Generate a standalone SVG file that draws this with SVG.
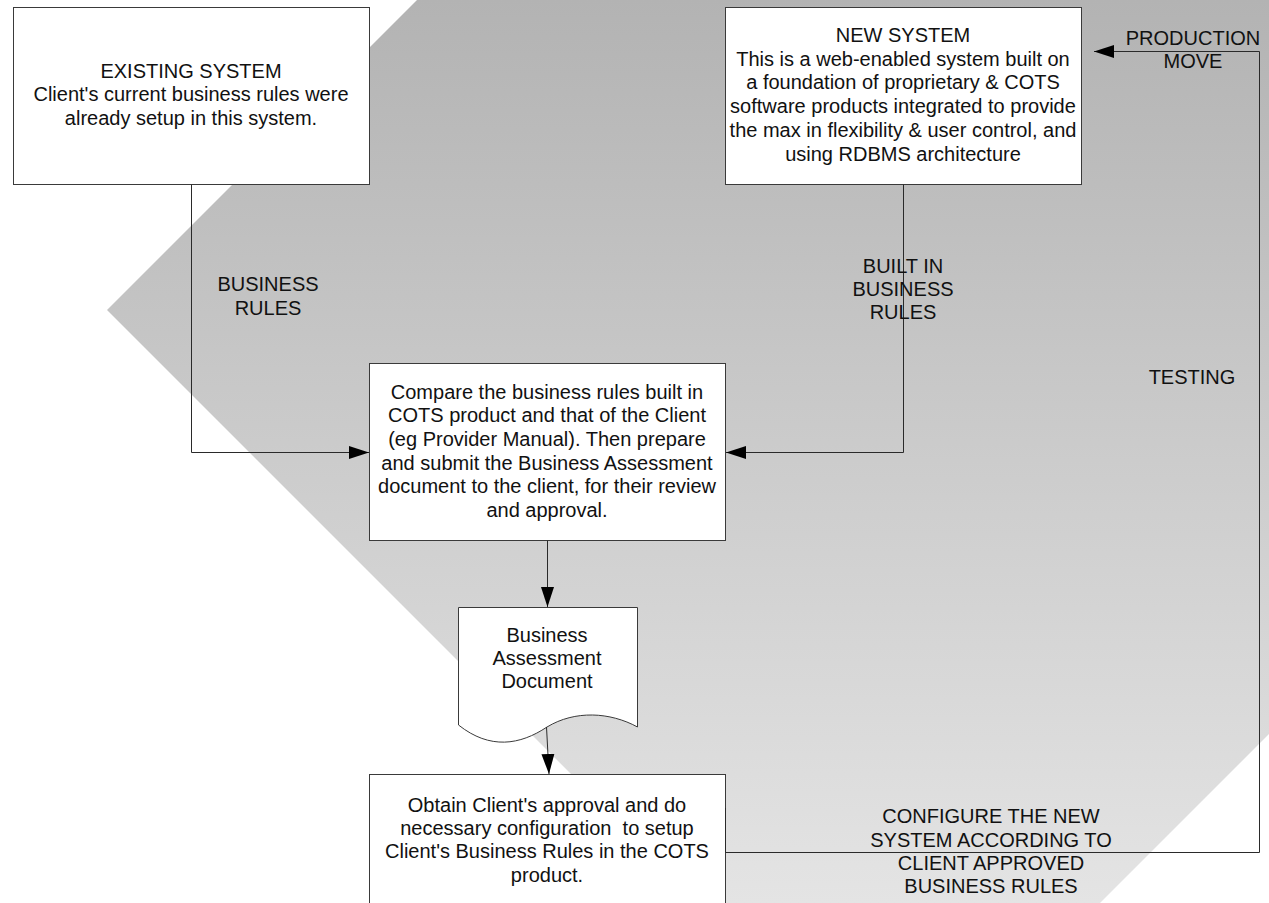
<svg xmlns="http://www.w3.org/2000/svg" width="1269" height="903" viewBox="0 0 1269 903">
<defs>
<linearGradient id="bg" x1="0" y1="0" x2="0" y2="903" gradientUnits="userSpaceOnUse">
<stop offset="0" stop-color="#b3b3b3"/>
<stop offset="1" stop-color="#e4e4e4"/>
</linearGradient>
<marker id="arr" markerUnits="userSpaceOnUse" markerWidth="20" markerHeight="14" refX="20" refY="7" orient="auto">
<path d="M0,0.5 L20,7 L0,13.5 Z" fill="#000"/>
</marker>
</defs>
<style>
.box{fill:#fff;stroke:#3a3a3a;stroke-width:1}
.t{font-family:"Liberation Sans",Arial,sans-serif;font-size:20px;fill:#111;text-anchor:middle}
.c{fill:none;stroke:#2a2a2a;stroke-width:1}
</style>
<rect width="1269" height="903" fill="#fff"/>
<polygon id="backdrop" points="417,0 1269,0 1269,734 1100,903 700,903 107,310" fill="url(#bg)"/>

<g id="existing">
<rect class="box" x="13.5" y="7.5" width="356" height="177"/>
<text class="t" x="191" y="77.5">EXISTING SYSTEM</text>
<text class="t" x="191" y="101">Client's current business rules were</text>
<text class="t" x="191" y="124.5">already setup in this system.</text>
</g>

<g id="newsystem">
<rect class="box" x="725.5" y="7.5" width="356" height="177"/>
<text class="t" x="903" y="42">NEW SYSTEM</text>
<text class="t" x="903" y="65.7">This is a web-enabled system built on</text>
<text class="t" x="903" y="89.4">a foundation of proprietary &amp; COTS</text>
<text class="t" x="903" y="113.1">software products integrated to provide</text>
<text class="t" x="903" y="136.8">the max in flexibility &amp; user control, and</text>
<text class="t" x="903" y="160.5">using RDBMS architecture</text>
</g>

<g id="compare">
<rect class="box" x="369.5" y="363.5" width="356" height="177"/>
<text class="t" x="547" y="398.5">Compare the business rules built in</text>
<text class="t" x="547" y="422.2">COTS product and that of the Client</text>
<text class="t" x="547" y="445.9">(eg Provider Manual). Then prepare</text>
<text class="t" x="547" y="469.6">and submit the Business Assessment</text>
<text class="t" x="547" y="493.3">document to the client, for their review</text>
<text class="t" x="547" y="517">and approval.</text>
</g>

<g id="document">
<path class="box" d="M458.5,607.5 H637.5 V727 C610,712 575,710 547,727 C520,745 490,750 458.5,725 Z"/>
<text class="t" x="547" y="642">Business</text>
<text class="t" x="547" y="665">Assessment</text>
<text class="t" x="547" y="688">Document</text>
</g>

<g id="configure">
<rect class="box" x="369.5" y="774.5" width="356" height="140"/>
<text class="t" x="547" y="811.7">Obtain Client's approval and do</text>
<text class="t" x="547" y="835" xml:space="preserve">necessary configuration  to setup</text>
<text class="t" x="547" y="858.3">Client's Business Rules in the COTS</text>
<text class="t" x="547" y="881.7">product.</text>
</g>

<g id="connectors">
<path class="c" d="M191.5,184.5 V452.5 H369" marker-end="url(#arr)"/>
<path class="c" d="M903.5,184.5 V452.5 H726" marker-end="url(#arr)"/>
<path class="c" d="M547.5,540.5 V607" marker-end="url(#arr)"/>
<path class="c" d="M546.5,727 L549,774" marker-end="url(#arr)"/>
<path class="c" d="M725.5,808 V852.5 H1259.5 V51.5 H1094" marker-end="url(#arr)"/>
<text class="t" x="268" y="291">BUSINESS</text>
<text class="t" x="268" y="315">RULES</text>
<text class="t" x="903" y="273">BUILT IN</text>
<text class="t" x="903" y="296">BUSINESS</text>
<text class="t" x="903" y="319">RULES</text>
<text class="t" x="1192" y="384">TESTING</text>
<text class="t" x="1193" y="45">PRODUCTION</text>
<text class="t" x="1193" y="68">MOVE</text>
<text class="t" x="991" y="823.3">CONFIGURE THE NEW</text>
<text class="t" x="991" y="846.7">SYSTEM ACCORDING TO</text>
<text class="t" x="991" y="870">CLIENT APPROVED</text>
<text class="t" x="991" y="893.3">BUSINESS RULES</text>
</g>
</svg>
